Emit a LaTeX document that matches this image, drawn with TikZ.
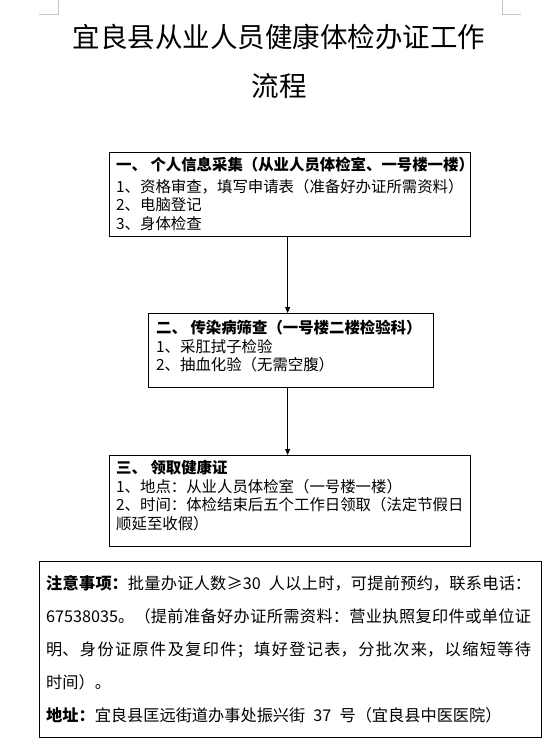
\documentclass[tikz,border=0pt]{standalone}
\usepackage{fontspec}
\setmainfont{Noto Sans CJK SC}
\usepackage{tikz}
\usetikzlibrary{arrows.meta,positioning,calc}
\XeTeXlinebreaklocale "zh"
\XeTeXlinebreakskip=0pt plus 3pt
\definecolor{cropmark}{HTML}{C4C4C4}

\begin{document}
\begin{tikzpicture}[x=1pt, y=-1pt,
  stepbox/.style={draw, line width=1.2pt, inner sep=0pt, anchor=north west},
  steptext/.style={anchor=north west, inner sep=0pt, align=left,
                   font=\fontsize{15.4}{18.5}\selectfont},
  flow/.style={-{Triangle[length=6pt,width=5pt]}, line width=0.9pt},
]
  \useasboundingbox (0,0) rectangle (556,745);
  % page corner marks
  \draw[cropmark, line width=0.8pt] (39,14) -- (58,14) -- (58,0);
  \draw[cropmark, line width=0.8pt] (502,0) -- (502,14) -- (521,14);

  \node[anchor=base, font=\fontsize{27.5}{36}\selectfont] (title) at (279,47.5) {宜良县从业人员健康体检办证工作};
  \node[anchor=base, font=\fontsize{27.5}{36}\selectfont] (title2) at (279,96) {流程};

  \node[stepbox, minimum width=361pt, minimum height=84pt] (collect) at (109,152) {};
  \node[stepbox, minimum width=285pt, minimum height=74pt] (screen) at (148,313) {};
  \node[stepbox, minimum width=361pt, minimum height=91pt] (receive) at (109,455) {};
  \node[stepbox, minimum width=502pt, minimum height=176pt] (notice) at (39,561) {};

  \node[steptext] (collecttext) at ([xshift=7pt,yshift=-5pt]collect.north west) {\textbf{一、 个人信息采集（从业人员体检室、一号楼一楼）}\\[3pt]1、资格审查，填写申请表（准备好办证所需资料）\\2、电脑登记\\3、身体检查};
  \node[steptext] (screentext) at ([xshift=8pt,yshift=-7pt]screen.north west) {\textbf{二、 传染病筛查（一号楼二楼检验科）}\\1、采肛拭子检验\\2、抽血化验（无需空腹）};
  \node[steptext] (receivetext) at ([xshift=7pt,yshift=-5pt]receive.north west) {\textbf{三、 领取健康证}\\1、地点：从业人员体检室（一号楼一楼）\\2、时间：体检结束后五个工作日领取（法定节假日\\顺延至收假）};
  \node[anchor=north west, inner sep=0pt, text width=485pt, align=justify,
        font=\fontsize{16.2}{33}\selectfont] (noticetext) at ([xshift=7pt,yshift=-14pt]notice.north west) {\textbf{注意事项：}批量办证人数≥30\enspace 人以上时，可提前预约，联系电话：\linebreak 67538035。（提前准备好办证所需资料：营业执照复印件或单位证\linebreak 明、身份证原件及复印件；填好登记表，分批次来，以缩短等待\linebreak 时间）。\\\textbf{地址：}宜良县匡远街道办事处振兴街\enspace 37\enspace 号（宜良县中医医院）};

  \coordinate (a1) at ([xshift=-2.5pt]collect.south);
  \draw[flow] (a1) -- (a1 |- screen.north);
  \coordinate (a2) at ([xshift=-3.5pt]screen.south);
  \draw[flow] (a2) -- (a2 |- receive.north);
\end{tikzpicture}
\end{document}
